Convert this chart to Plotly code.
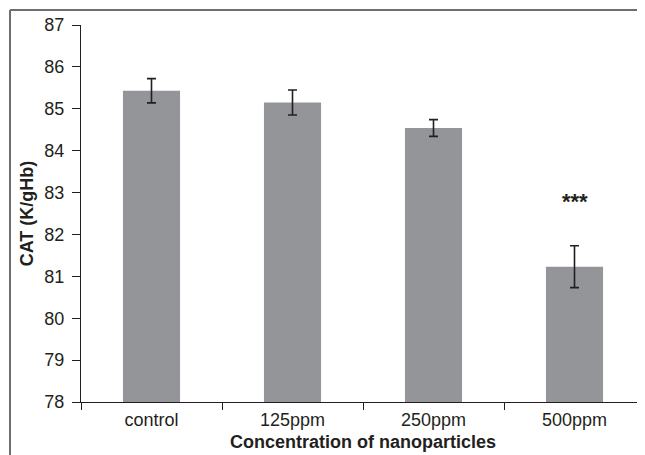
import plotly.graph_objects as go

categories = ["control", "125ppm", "250ppm", "500ppm"]
values = [85.43, 85.15, 84.54, 81.23]
errors = [0.29, 0.30, 0.20, 0.50]
sig_labels = ["", "", "", "***"]
y_ticks = [78, 79, 80, 81, 82, 83, 84, 85, 86, 87]

# page body has an 8px margin, so the figure is sized to fill the rest
W, H = 637, 447
L, R, T, B = 73, 0, 17, 53
pw = W - L - R
ph = H - T - B

fig = go.Figure()
fig.add_trace(go.Bar(
    x=categories, y=values,
    marker=dict(color="#939598", line=dict(width=0)),
    width=0.405,
    error_y=dict(type="data", array=errors, visible=True,
                 color="#231f20", thickness=1.6, width=4.5),
    showlegend=False,
))

for c, v, e, s in zip(categories, values, errors, sig_labels):
    if s:
        fig.add_annotation(x=c, y=v + e + 1.05, text="<b>" + s + "</b>",
                           showarrow=False, font=dict(size=22, color="#231f20"))

# outer frame (top and left only)
fx0 = (2 - L) / pw
fy_top = 1 + (T - 2) / ph
fig.add_shape(type="line", xref="paper", yref="paper",
              x0=fx0, x1=1.0, y0=fy_top, y1=fy_top,
              line=dict(color="#6d6e71", width=2))
fig.add_shape(type="line", xref="paper", yref="paper",
              x0=fx0, x1=fx0, y0=fy_top, y1=-B / ph - 0.01,
              line=dict(color="#6d6e71", width=2))

fig.update_layout(
    width=W, height=H,
    margin=dict(l=L, r=R, t=T, b=B),
    plot_bgcolor="white", paper_bgcolor="white",
    font=dict(family="Liberation Sans, Arial, sans-serif", color="#231f20"),
    bargap=0.6,
    xaxis=dict(
        type="category", showline=True, linecolor="#231f20", linewidth=1.3,
        ticks="outside", tickson="boundaries", ticklen=7, tickcolor="#231f20",
        tickfont=dict(size=18), showgrid=False, ticklabelstandoff=1,
        title=dict(text="<b>Concentration of nanoparticles</b>",
                   font=dict(size=18), standoff=6),
    ),
    yaxis=dict(
        range=[78, 87], tickvals=y_ticks, showline=True, linecolor="#231f20",
        linewidth=1.3, ticks="outside", ticklen=8, tickcolor="#231f20",
        tickfont=dict(size=18), showgrid=False, zeroline=False,
        ticklabelstandoff=4,
        title=dict(text="<b>CAT (K/gHb)</b>", font=dict(size=18), standoff=5),
    ),
)

fig.write_html("out.html")
